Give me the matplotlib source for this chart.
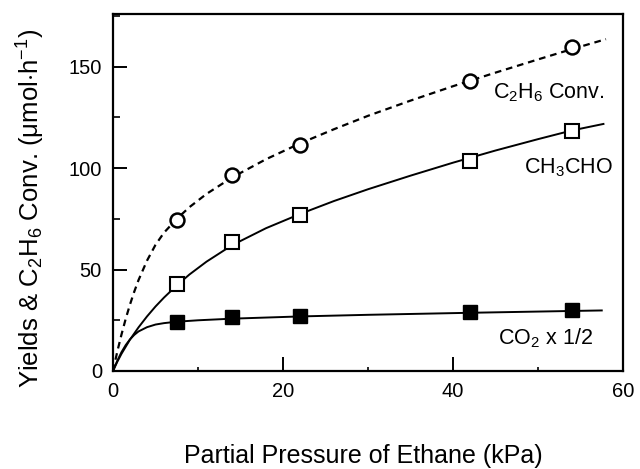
import numpy as np
import matplotlib
matplotlib.use('Agg')
import matplotlib.pyplot as plt
from matplotlib.ticker import MultipleLocator

plt.rcParams['font.family'] = ['Liberation Sans', 'DejaVu Sans']
plt.rcParams['mathtext.fontset'] = 'custom'
plt.rcParams['mathtext.rm'] = 'Liberation Sans'
plt.rcParams['mathtext.it'] = 'Liberation Sans:italic'

# measured points
pressure = [7.5, 14, 22, 42, 54]
c2h6_conv = [74.5, 96.5, 111.5, 143, 159.5]
ch3cho = [42.8, 63.5, 76.8, 103.5, 118.3]
co2_half = [24.3, 26.7, 26.9, 29.2, 29.9]

# fitted curves
conv_curve_x = [0, 0.5, 1, 1.5, 2, 2.5, 3, 4, 5, 6, 7.5, 9, 11, 14, 18, 22, 26, 30, 35, 40, 45, 50, 54, 58]
conv_curve_y = [0, 9.5, 18, 25.8, 32.8, 39.1, 44.8, 54.4, 62.2, 68.2, 75.0, 80.8, 87.3, 95.4,
                104.4, 112.2, 119.2, 125.8, 133.3, 140.4, 147.1, 153.6, 158.7, 163.6]

ald_curve_x = [0, 0.5, 1, 2, 3, 4, 5, 6, 7.5, 9, 11, 14, 18, 22, 26, 30, 35, 40, 45, 50, 54, 57.7]
ald_curve_y = [0, 4.5, 8.5, 15.5, 21.5, 26.9, 31.8, 36.2, 42.2, 47.6, 53.9, 62.0, 70.4, 77.4,
               83.8, 89.6, 96.3, 102.7, 108.7, 114.3, 118.6, 121.8]

co2_curve_x = [0, 0.5, 1, 1.5, 2, 2.5, 3, 4, 5, 6, 7.5, 10, 14, 22, 30, 42, 54, 57.5]
co2_curve_y = [0, 5, 9.3, 12.8, 15.6, 17.8, 19.5, 21.6, 22.9, 23.6, 24.3, 25.0, 25.8, 26.9,
               27.7, 28.7, 29.6, 29.85]

fig = plt.figure(figsize=(6.4, 4.69), dpi=100)
ax = fig.add_axes([113 / 640, 1 - 371 / 469, 510 / 640, 357 / 469])

ax.plot(conv_curve_x, conv_curve_y, color='black', lw=1.6, ls=(0, (3, 2.2)))
ax.plot(ald_curve_x, ald_curve_y, color='black', lw=1.4)
ax.plot(co2_curve_x, co2_curve_y, color='black', lw=1.4)

ax.plot(pressure, c2h6_conv, 'o', ms=10, mfc='white', mec='black', mew=1.8)
ax.plot(pressure, ch3cho, 's', ms=10.5, mfc='white', mec='black', mew=1.5)
ax.plot(pressure, co2_half, 's', ms=10.5, mfc='black', mec='black', mew=1.0)

ax.text(44.7, 137, r'C$_2$H$_6$ Conv.', fontsize=15.5, va='center')
ax.text(48.3, 100, r'CH$_3$CHO', fontsize=15.5, va='center')
ax.text(45.3, 16, r'CO$_2$ x 1/2', fontsize=15.5, va='center')

ax.set_xlim(0, 60)
ax.set_ylim(0, 176)
ax.xaxis.set_major_locator(MultipleLocator(20))
ax.xaxis.set_minor_locator(MultipleLocator(10))
ax.yaxis.set_major_locator(MultipleLocator(50))
ax.yaxis.set_minor_locator(MultipleLocator(25))
ax.tick_params(which='major', direction='in', length=10, width=1.4, labelsize=14.5, pad=8)
ax.tick_params(which='minor', direction='in', length=5, width=1.2)
ax.tick_params(axis='x', which='minor', length=3)
for s in ax.spines.values():
    s.set_linewidth(1.6)

ax.set_xlabel('Partial Pressure of Ethane (kPa)', fontsize=18)
ax.xaxis.set_label_coords(0.49, -0.205)
ax.set_ylabel(r'Yields & C$_2$H$_6$ Conv. ($\mathregular{\mu}$mol$\cdot$h$^{-1}$)', fontsize=18.5)
ax.yaxis.set_label_coords(-0.13, 0.455)

fig.savefig('out.png', dpi=100)
